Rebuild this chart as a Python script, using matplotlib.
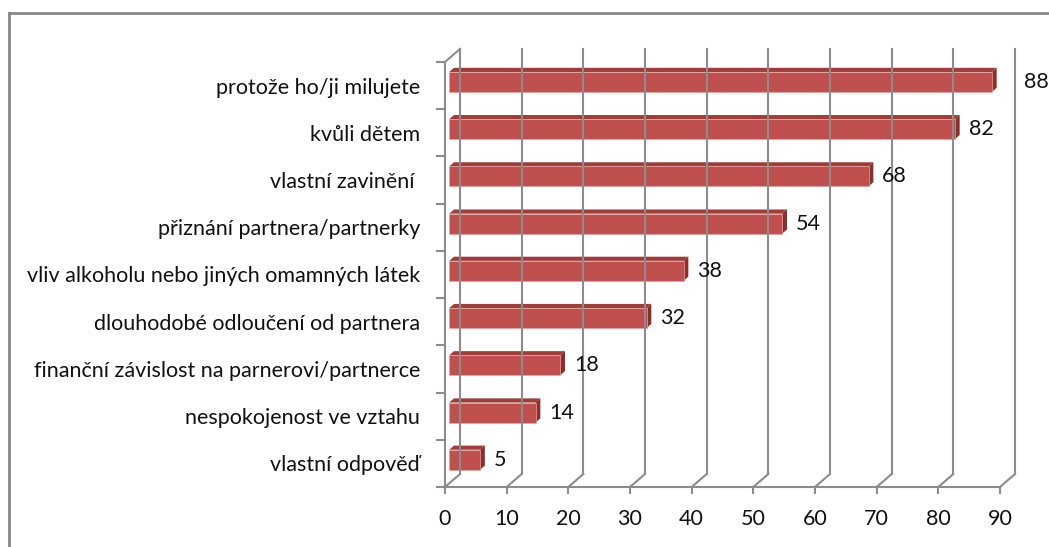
import matplotlib.pyplot as plt
from matplotlib.patches import Polygon, Rectangle
from matplotlib.lines import Line2D

categories = [
    "protože ho/ji milujete",
    "kvůli dětem",
    "vlastní zavinění ",
    "přiznání partnera/partnerky",
    "vliv alkoholu nebo jiných omamných látek",
    "dlouhodobé odloučení od partnera",
    "finanční závislost na parnerovi/partnerce",
    "nespokojenost ve vztahu",
    "vlastní odpověď",
]
values = [88, 82, 68, 54, 38, 32, 18, 14, 5]
xticks = list(range(0, 100, 10))

plt.rcParams['font.family'] = ['Lato', 'DejaVu Sans']

W, H, DPI = 1049, 547, 100
fig = plt.figure(figsize=(W / DPI, H / DPI), dpi=DPI)

# front plane of the plot area, in pixels
left_px, right_px, top_px, bot_px = 445, 1000, 62, 487
ax = fig.add_axes([left_px / W, 1 - bot_px / H,
                   (right_px - left_px) / W, (bot_px - top_px) / H])
n = len(categories)
xmax = 90
ax.set_xlim(0, xmax)
ax.set_ylim(-0.5, n - 0.5)
ax.axis('off')

ux = (right_px - left_px) / xmax   # px per x unit
uy = (bot_px - top_px) / n         # px per category
dx, dy = 15 / ux, 13 / uy          # wall depth in data units

grid = '#8c8c8c'
lw = 1.5
txt = '#111111'

# back wall grid + floor diagonals
for t in xticks:
    ax.plot([t + dx, t + dx], [-0.5 + dy, n - 0.5 + dy], color=grid, lw=lw, clip_on=False)
    ax.plot([t, t + dx], [-0.5, -0.5 + dy], color=grid, lw=lw, clip_on=False)
    ax.plot([t, t], [-0.5, -0.5 - 6 / uy], color=grid, lw=lw, clip_on=False)
    ax.text(t, -0.5 - 32 / uy, str(t), ha='center', va='center', fontsize=15.5, color=txt)

# front axis line and left wall
ax.plot([0, xmax], [-0.5, -0.5], color=grid, lw=lw, clip_on=False)
ax.plot([0, 0], [-0.5, n - 0.5], color=grid, lw=lw, clip_on=False)
ax.plot([0, dx], [n - 0.5, n - 0.5 + dy], color=grid, lw=lw, clip_on=False)
for k in range(n + 1):
    ax.plot([-8 / ux, 0], [k - 0.5, k - 0.5], color=grid, lw=lw, clip_on=False)

# 3D bars
front, top, side = '#c0504d', '#9e3d3a', '#8a2f2c'
h = 20 / uy
f0x, f0y = 0.28 * dx, 0.28 * dy
f1x, f1y = 0.6 * dx, 0.6 * dy
for i, (cat, v) in enumerate(zip(categories, values)):
    y = n - 1 - i
    ax.add_patch(Polygon([(f0x, y + h / 2 + f0y), (f0x + v, y + h / 2 + f0y),
                          (f1x + v, y + h / 2 + f1y), (f1x, y + h / 2 + f1y)],
                         closed=True, facecolor=top, edgecolor='none', clip_on=False))
    ax.add_patch(Polygon([(f0x + v, y - h / 2 + f0y), (f0x + v, y + h / 2 + f0y),
                          (f1x + v, y + h / 2 + f1y), (f1x + v, y - h / 2 + f1y)],
                         closed=True, facecolor=side, edgecolor='none', clip_on=False))
    ax.add_patch(Rectangle((f0x, y - h / 2 + f0y), v, h, facecolor=front,
                           edgecolor='#e3a3a1', lw=0.5, clip_on=False))
    # value label, pushed outside the wall if it would collide with it
    lx = f1x + v + 9 / ux
    if v > 85:
        lx = xmax + dx + 9 / ux
    ax.text(lx, y + f0y, str(v), ha='left', va='center', fontsize=15.5, color=txt)
    ax.text(-25 / ux, y - 2 / uy, cat, ha='right', va='center', fontsize=15.5, color=txt)

# chart area border (cut off on right and bottom)
border = '#878787'
fig.add_artist(Line2D([9 / W, 1], [1 - 13 / H, 1 - 13 / H], color=border, lw=2))
fig.add_artist(Line2D([9 / W, 9 / W], [1 - 13 / H, 0], color=border, lw=2))

fig.savefig('out.png', dpi=DPI)
